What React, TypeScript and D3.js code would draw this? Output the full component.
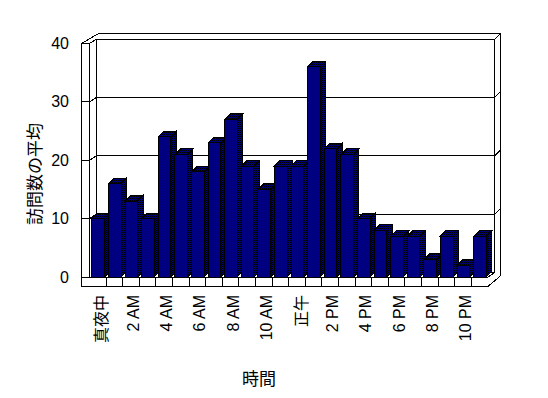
import React from "react";
import * as d3 from "d3";

const hours = Array.from({ length: 24 }, (_, i) => String(i));
const visits = [10, 16, 13, 10, 24, 21, 18, 23, 27, 19, 15, 19, 19, 36, 22, 21, 10, 8, 7, 7, 3, 7, 2, 7];
const yTicks = [0, 10, 20, 30, 40];
const xLabelHours = ["0", "2", "4", "6", "8", "10", "12", "14", "16", "18", "20", "22"];
const xLabels = ["真夜中", "2 AM", "4 AM", "6 AM", "8 AM", "10 AM", "正午", "2 PM", "4 PM", "6 PM", "8 PM", "10 PM"];
const yTitle = "訪問数の平均";
const xTitle = "時間";

const W = 548;
const H = 398;
const NAVY = "#000080";
const FONT = "'Liberation Sans', Arial, sans-serif";
const CJK = "'Noto Sans CJK JP', sans-serif";

export default function App() {
  const x = d3.scaleBand<string>().domain(hours).range([89.5, 487.9]).padding(0);
  const y = d3.scaleLinear().domain([0, 40]).range([277, 43.5]);
  const bw = x.bandwidth();

  const XL = 81.5; // left wall outer
  const XI = 89.5; // left wall inner
  const BDX = 7; // back plane offset
  const BDY = -4.5;
  const TDX = 6; // wall thickness offset
  const TDY = -6;
  const YF = 286.5; // floor front bottom
  const XR = x.range()[1];
  const backL = XI + BDX;
  const backR = XR + BDX;
  const y0 = y(0);

  const dx = 5.5;
  const dy = -5.5;
  const barOff = 2.4;
  const barW = 12.5;

  const isCjk = (s: string) => /[^\x00-\x7f]/.test(s);

  return (
    <svg
      width={W}
      height={H}
      style={{ position: "absolute", left: 0, top: 0, background: "#fff" }}
      shapeRendering="crispEdges"
    >
      <defs>
        <pattern id="chk" width="2" height="2" patternUnits="userSpaceOnUse">
          <rect width="2" height="2" fill={NAVY} />
          <rect x="0" y="0" width="1" height="1" fill="#000" />
          <rect x="1" y="1" width="1" height="1" fill="#000" />
        </pattern>
      </defs>
      <rect width={W} height={H} fill="#fff" />

      {/* walls & floor frame */}
      <g fill="none" stroke="#000" strokeWidth={1}>
        <path
          d={`M${XL},${YF} V${y(40)} L${backL + TDX - 3},${y(40) + BDY + TDY} H${backR + TDX} V${y0 + BDY + TDY + 9} L${XR},${YF} Z`}
        />
        <line x1={XI} y1={y(40)} x2={XI} y2={y0} />
        <line x1={XL} y1={y0} x2={XR} y2={y0} />
        <line x1={XR} y1={y0} x2={backR} y2={y0 + BDY} />
        <line x1={backL} y1={y(40) + BDY} x2={backL} y2={y0 + BDY} />
        <line x1={backR} y1={y(40) + BDY} x2={backR} y2={y0 + BDY} />
        <line x1={backL} y1={y0 + BDY} x2={backR} y2={y0 + BDY} />
        {yTicks.filter((t) => t > 0).map((t) => (
          <path
            key={t}
            d={`M${XL},${y(t)} H${XI} L${backL},${y(t) + BDY} H${backR} L${backR + TDX},${y(t) + BDY + TDY}`}
          />
        ))}
        {hours.slice(1).map((h) => (
          <line key={h} x1={x(h)} y1={y0} x2={x(h)} y2={YF} />
        ))}
      </g>

      {/* bars */}
      <g stroke="#000" strokeWidth={1}>
        {hours.map((h, i) => {
          const v = visits[i];
          const xl = (x(h) as number) + barOff;
          const xr = xl + barW;
          const yt = y(v);
          return (
            <g key={h}>
              <polygon
                fill="url(#chk)"
                points={`${xr},${y0} ${xr},${yt} ${xr + dx},${yt + dy} ${xr + dx},${y0 + dy}`}
              />
              <polygon
                fill="url(#chk)"
                points={`${xl},${yt} ${xl + dx},${yt + dy} ${xr + dx},${yt + dy} ${xr},${yt}`}
              />
              <rect x={xl} y={yt} width={barW} height={y0 - yt} fill={NAVY} />
            </g>
          );
        })}
      </g>

      {/* y tick labels */}
      <g fontFamily={FONT} fontSize={16} fill="#000" shapeRendering="auto">
        {yTicks.map((t) => (
          <text key={t} x={69} y={y(t)} textAnchor="end" dominantBaseline="central">
            {t}
          </text>
        ))}
      </g>

      {/* x tick labels */}
      <g fontSize={16} fill="#000">
        {xLabelHours.map((h, i) => {
          const cx = (x(h) as number) + bw / 2 + 2.5;
          const s = xLabels[i];
          return (
            <text
              key={h}
              transform={`translate(${cx},295) rotate(-90)`}
              textAnchor="end"
              dominantBaseline="central"
              fontFamily={isCjk(s) ? CJK : FONT}
            >
              {s}
            </text>
          );
        })}
      </g>

      {/* axis titles */}
      <text
        transform={`translate(33,174) rotate(-90)`}
        textAnchor="middle"
        dominantBaseline="central"
        fontFamily={CJK}
        fontSize={17}
      >
        {yTitle}
      </text>
      <text x={259} y={377} textAnchor="middle" dominantBaseline="central" fontFamily={CJK} fontSize={17}>
        {xTitle}
      </text>
    </svg>
  );
}
